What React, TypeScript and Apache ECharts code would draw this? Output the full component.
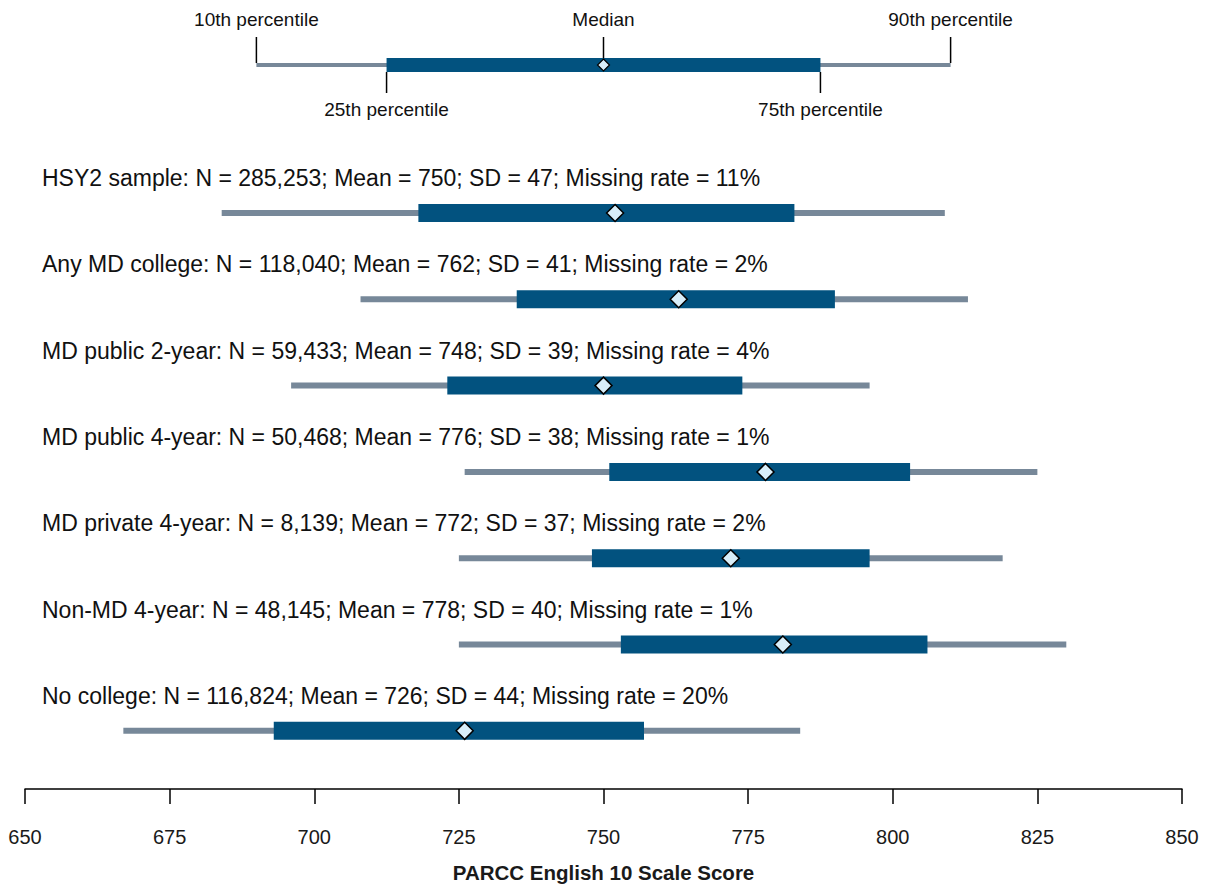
import React, { useEffect, useRef } from "react";
import * as echarts from "echarts";

// Data
const groups = [
  "HSY2 sample",
  "Any MD college",
  "MD public 2-year",
  "MD public 4-year",
  "MD private 4-year",
  "Non-MD 4-year",
  "No college",
];
const nValues = ["285,253", "118,040", "59,433", "50,468", "8,139", "48,145", "116,824"];
const means = [750, 762, 748, 776, 772, 778, 726];
const sds = [47, 41, 39, 38, 37, 40, 44];
const missingRates = ["11%", "2%", "4%", "1%", "2%", "1%", "20%"];
const p10 = [684, 708, 696, 726, 725, 725, 667];
const p25 = [718, 735, 723, 751, 748, 753, 693];
const medians = [752, 763, 750, 778, 772, 781, 726];
const p75 = [783, 790, 774, 803, 796, 806, 757];
const p90 = [809, 813, 796, 825, 819, 830, 784];

// Key (schematic) values
const keyValues = [690, 712.5, 750, 787.5, 810];
const keyLabels = ["10th percentile", "25th percentile", "Median", "75th percentile", "90th percentile"];

const xTicks = { min: 650, max: 850, interval: 25 };
const axisTitle = "PARCC English 10 Scale Score";

const FONT = "'Liberation Sans', Arial, Helvetica, sans-serif";
const BOX = "#02527F";
const WHISK = "#778899";
const DIAMOND = "#D8EEF9";

export default function App() {
  const ref = useRef<HTMLDivElement>(null);
  useEffect(() => {
    document.body.style.margin = "0";
    document.body.style.overflow = "hidden";
    const chart = echarts.init(ref.current!, null, { renderer: "svg" });

    const rowData = groups.map((g, i) => [p10[i], p25[i], medians[i], p75[i], p90[i], i]);
    const keyRow = -1.715;

    const diamond = (cx: number, cy: number, r: number, lw: number) => ({
      type: "polygon",
      shape: { points: [[cx, cy - r], [cx + r, cy], [cx, cy + r], [cx - r, cy]] },
      style: { fill: DIAMOND, stroke: "#000", lineWidth: lw },
    });

    const option: any = {
      animation: false,
      backgroundColor: "#fff",
      grid: { left: 25, right: 24, top: 0, bottom: 97, containLabel: false, outerBoundsMode: "none" },
      xAxis: {
        type: "value",
        min: xTicks.min,
        max: xTicks.max,
        interval: xTicks.interval,
        splitLine: { show: false },
        axisLine: { show: true, onZero: false, lineStyle: { color: "#000", width: 1.5 } },
        axisTick: { show: true, length: 15, lineStyle: { color: "#000", width: 1.5 } },
        axisLabel: { color: "#1a1a1a", fontSize: 20, fontFamily: FONT, margin: 38 },
        name: axisTitle,
        nameLocation: "middle",
        nameGap: 73,
        nameTextStyle: { color: "#1a1a1a", fontSize: 20.5, fontWeight: "bold", fontFamily: FONT },
      },
      yAxis: {
        type: "value",
        inverse: true,
        min: -2.468,
        max: 6.674,
        show: false,
      },
      series: [
        {
          type: "custom",
          data: rowData,
          clip: false,
          renderItem: (params: any, api: any) => {
            const i = api.value(5);
            const a = api.coord([api.value(0), i]);
            const b = api.coord([api.value(1), i]);
            const m = api.coord([api.value(2), i]);
            const c = api.coord([api.value(3), i]);
            const d = api.coord([api.value(4), i]);
            const y = a[1];
            const left = api.coord([xTicks.min, i])[0];
            const label = `${groups[i]}: N = ${nValues[i]}; Mean = ${means[i]}; SD = ${sds[i]}; Missing rate = ${missingRates[i]}`;
            return {
              type: "group",
              children: [
                {
                  type: "line",
                  shape: { x1: a[0], y1: y, x2: d[0], y2: y },
                  style: { stroke: WHISK, lineWidth: 6 },
                },
                {
                  type: "rect",
                  shape: { x: b[0], y: y - 9, width: c[0] - b[0], height: 18 },
                  style: { fill: BOX },
                },
                diamond(m[0], y, 8.5, 1.5),
                {
                  type: "text",
                  x: left + 17,
                  y: y - 35,
                  style: {
                    text: label,
                    fill: "#111",
                    font: `23px ${FONT}`,
                    textAlign: "left",
                    textVerticalAlign: "middle",
                  },
                },
              ],
            };
          },
        },
        {
          type: "custom",
          data: [[...keyValues, keyRow]],
          clip: false,
          renderItem: (params: any, api: any) => {
            const r = api.value(5);
            const pts = [0, 1, 2, 3, 4].map((k) => api.coord([api.value(k), r]));
            const y = pts[0][1];
            const tick = (x: number, y1: number, y2: number) => ({
              type: "line",
              shape: { x1: x, y1, x2: x, y2 },
              style: { stroke: "#000", lineWidth: 1.5 },
            });
            const txt = (x: number, yy: number, t: string) => ({
              type: "text",
              x,
              y: yy,
              style: { text: t, fill: "#111", font: `19px ${FONT}`, textAlign: "center", textVerticalAlign: "middle" },
            });
            return {
              type: "group",
              children: [
                {
                  type: "line",
                  shape: { x1: pts[0][0], y1: y, x2: pts[4][0], y2: y },
                  style: { stroke: WHISK, lineWidth: 4 },
                },
                {
                  type: "rect",
                  shape: { x: pts[1][0], y: y - 7, width: pts[3][0] - pts[1][0], height: 14 },
                  style: { fill: BOX },
                },
                tick(pts[0][0], y - 28, y - 2),
                tick(pts[2][0], y - 28, y - 7),
                tick(pts[4][0], y - 28, y - 2),
                tick(pts[1][0], y + 7, y + 28),
                tick(pts[3][0], y + 7, y + 28),
                diamond(pts[2][0], y, 6, 1.2),
                txt(pts[0][0], y - 45, keyLabels[0]),
                txt(pts[2][0], y - 45, keyLabels[2]),
                txt(pts[4][0], y - 45, keyLabels[4]),
                txt(pts[1][0], y + 45, keyLabels[1]),
                txt(pts[3][0], y + 45, keyLabels[3]),
              ],
            };
          },
        },
      ],
    };
    chart.setOption(option);
    return () => chart.dispose();
  }, []);
  return <div ref={ref} style={{ width: 1206, height: 886 }} />;
}
